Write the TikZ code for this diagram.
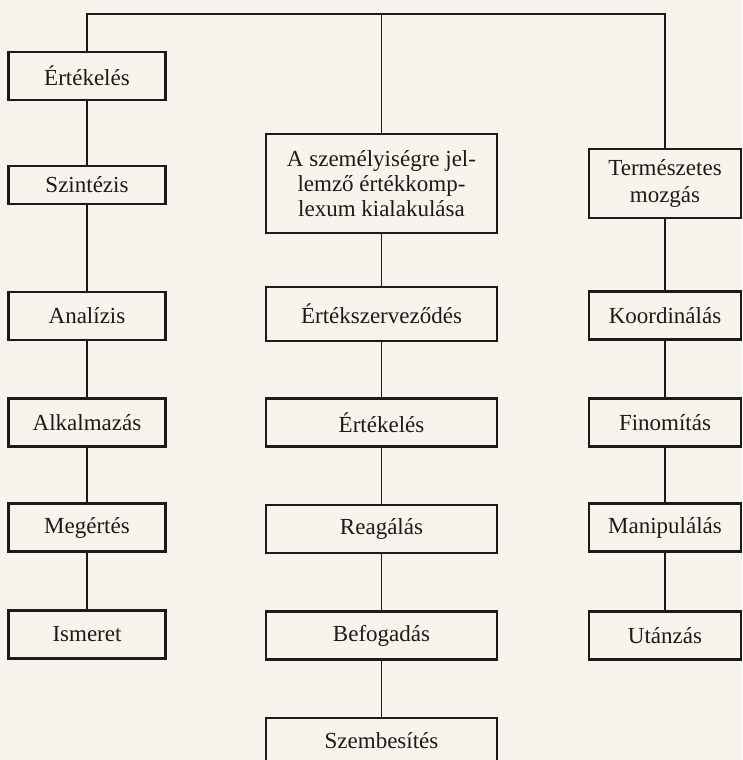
\documentclass[tikz,border=0pt]{standalone}
\usepackage{fontspec}
\setmainfont{Liberation Serif}
\definecolor{paper}{HTML}{F6F4EC}
\definecolor{ink}{HTML}{1E1A18}
\begin{document}
\begin{tikzpicture}[x=1pt,y=-1pt,
  box/.style={draw=ink,line width=2.3pt,rectangle,inner sep=0pt,text=ink,
    font=\fontsize{23}{25}\selectfont,align=center},
  lbox/.style={box,minimum width=157pt,minimum height=48pt},
  mbox/.style={box,minimum width=231pt,minimum height=48pt},
  rbox/.style={box,minimum width=152pt,minimum height=48pt},
  link/.style={draw=ink,line width=1.8pt}]
\fill[paper] (0,0) rectangle (742,760);
\useasboundingbox (0,0) rectangle (742,760);
% left column
\node[lbox] (L1) at (87,76) {Értékelés};
\node[lbox,minimum height=38pt] (L2) at (87,185) {Szintézis};
\node[lbox] (L3) at (87,316) {Analízis};
\node[lbox] (L4) at (87,422.5) {Alkalmazás};
\node[lbox] (L5) at (87,527.5) {Megértés};
\node[lbox] (L6) at (87,634.5) {Ismeret};
% middle column
\node[mbox,minimum height=99pt] (M1) at (381.5,183.5) {A személyiségre jel-\\lemző értékkomp-\\lexum kialakulása};
\node[mbox,minimum height=54pt] (M2) at (381.5,314) {Értékszerveződés};
\node[mbox] (M3) at (381.5,422.5) {Értékelés};
\node[mbox] (M4) at (381.5,529) {Reagálás};
\node[mbox] (M5) at (381.5,635.5) {Befogadás};
\node[mbox,minimum height=46pt] (M6) at (381.5,741) {Szembesítés};
% right column
\node[rbox,minimum height=69pt,font=\fontsize{23}{27}\selectfont] (R1) at (665,183.5) {Természetes\\mozgás};
\node[rbox] (R2) at (665,315.5) {Koordinálás};
\node[rbox] (R3) at (665,422.5) {Finomítás};
\node[rbox] (R4) at (665,527.5) {Manipulálás};
\node[rbox] (R5) at (665,635.5) {Utánzás};
% top connector
\coordinate (T) at (381.5,14);
\draw[link] (L1.north) -- (L1.north |- T) -- (R1.north |- T) -- (R1.north);
\draw[link] (T) -- (M1.north);
% column connectors
\draw[link] (L1) -- (L2);
\draw[link] (L2) -- (L3);
\draw[link] (L3) -- (L4);
\draw[link] (L4) -- (L5);
\draw[link] (L5) -- (L6);
\draw[link] (M1) -- (M2);
\draw[link] (M2) -- (M3);
\draw[link] (M3) -- (M4);
\draw[link] (M4) -- (M5);
\draw[link] (M5) -- (M6);
\draw[link] (R1) -- (R2);
\draw[link] (R2) -- (R3);
\draw[link] (R3) -- (R4);
\draw[link] (R4) -- (R5);
\end{tikzpicture}
\end{document}
